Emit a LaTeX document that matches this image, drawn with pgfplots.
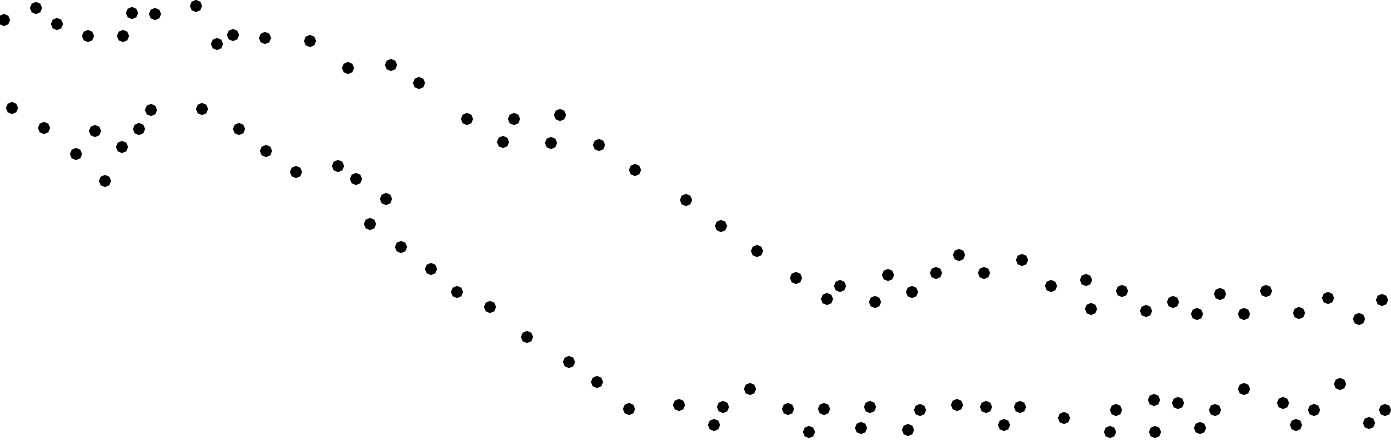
\documentclass[border=0pt]{standalone}
\usepackage{pgfplots}
\pgfplotsset{compat=1.18}
\begin{document}
\begin{tikzpicture}
\begin{axis}[
  scale only axis, width=13.91cm, height=4.4cm,
  xmin=0, xmax=1391, ymin=0, ymax=440,
  axis lines=none, clip=true,
]
% upper series (pixel x, 440 - pixel y)
\addplot[only marks, mark=*, mark size=1.5pt, black] coordinates {
(4,420) (36,432) (57,416) (88,404) (123,404) (132,427) (155,426) (196,434)
(217,396) (233,405) (265,402) (310,399) (348,372) (391,375) (419,357)
(467,321) (514,321) (503,298) (560,325) (551,297) (599,295) (635,270) (686,240)
(721,214) (757,189) (796,162) (827,141) (840,154) (875,138) (888,165) (912,148)
(936,167) (959,185) (984,167) (1022,180) (1051,154) (1086,160) (1091,131)
(1122,149) (1146,129) (1173,138) (1197,126) (1220,146) (1244,126) (1266,149)
(1299,127) (1328,142) (1359,121) (1382,140)
};
% lower series
\addplot[only marks, mark=*, mark size=1.5pt, black] coordinates {
(12,332) (44,312) (76,286) (95,309) (105,259) (122,293) (139,311) (151,330)
(202,331) (239,311) (266,289) (296,268) (338,274) (356,261) (370,216) (386,241)
(401,193) (431,171) (457,148) (490,133) (527,103) (569,78) (597,58) (629,31)
(679,35) (714,15) (723,33) (750,51) (788,31) (809,8) (824,31) (861,12) (870,33)
(908,10) (920,30) (957,35) (986,33) (1004,15) (1020,33) (1064,22) (1110,8)
(1116,30) (1154,40) (1155,8) (1178,37) (1200,12) (1215,30) (1244,51) (1283,37)
(1296,15) (1314,30) (1340,56) (1369,17) (1385,30)
};
\end{axis}
\pgfresetboundingbox
\path[use as bounding box] (current axis.south west) rectangle (current axis.north east);
\end{tikzpicture}
\end{document}
